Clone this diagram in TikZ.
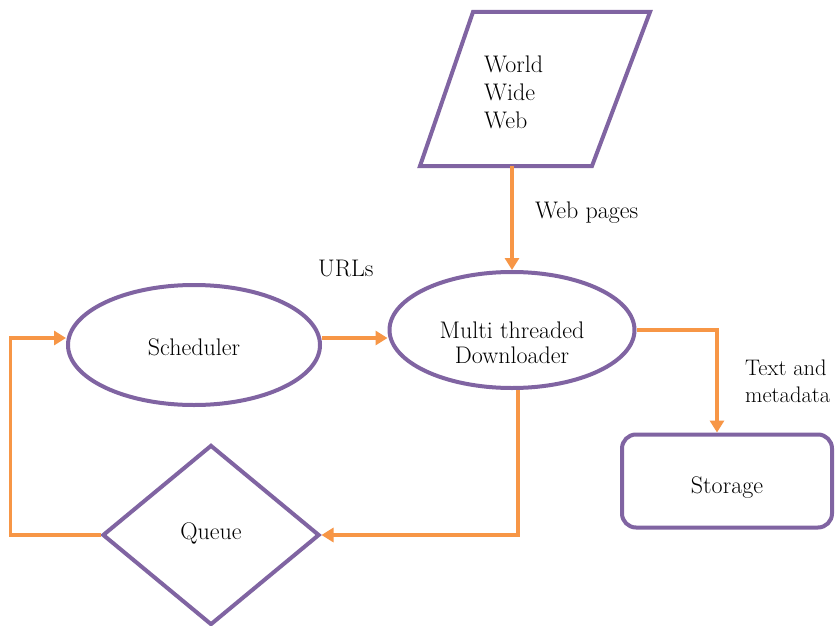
\documentclass[tikz,border=0pt]{standalone}
\usetikzlibrary{shapes.geometric,arrows.meta}
\definecolor{purp}{HTML}{8064A2}
\definecolor{orng}{HTML}{F79646}
\begin{document}
\begin{tikzpicture}[x=1pt,y=-1pt,
 txt/.style={font=\fontsize{24}{25}\selectfont},
 box/.style={draw=purp,line width=4pt,fill=white,inner sep=0pt,txt},
 oval/.style={box,ellipse},
 conn/.style={draw=orng,line width=3.5pt,-{Triangle[length=12pt,width=14pt]}},
 lbl/.style={font=\fontsize{24}{27}\selectfont,inner sep=0pt,align=left,anchor=west}]
\useasboundingbox (0,0) rectangle (835,626);
\fill[white] (0,0) rectangle (835,626);
% World Wide Web parallelogram
\draw[purp,line width=4pt,fill=white,line join=miter] (473,12) -- (650,12) -- (592,166) -- (420,166) -- cycle;
\node[minimum width=172pt,minimum height=154pt,inner sep=0pt] (www) at (535,89) {};
\node[lbl,font=\fontsize{24}{28}\selectfont] (wwwtext) at (484,92) {World\\Wide\\Web};
% nodes
\node[oval,minimum width=252pt,minimum height=120pt] (sched) at (194,345) {};
\node[txt] (schedtext) at (194,347) {Scheduler};
\node[oval,minimum width=245pt,minimum height=116pt] (dl) at (512,330) {};
\node[txt,align=center,inner sep=0pt] (dltext) at (512,343) {Multi threaded\\Downloader};
\node[box,rounded corners=14pt,minimum width=210pt,minimum height=93pt] (st) at (727,481) {};
\node[txt] (sttext) at (727,488) {Storage};
\node[box,diamond,minimum width=217pt,minimum height=180pt] (q) at (211,535) {};
\node[txt] (qtext) at (211,533) {Queue};
% connectors
\draw[conn] (www.south -| dl.north) -- (dl.north);
\draw[conn] ([yshift=7pt]sched.east) -- ([yshift=-8pt]dl.west);
\draw[conn] (dl.east) -| ([xshift=-10pt]st.north);
\draw[conn] ([xshift=6pt]dl.south) |- (q.east);
\draw[conn] (q.west) -- ++(-90,0) |- ([yshift=7pt]sched.west);
% labels
\node[lbl] (lweb) at (535,213) {Web pages};
\node[lbl] (lurl) at (318,268) {URLs};
\node[lbl,font=\fontsize{22.5}{27}\selectfont] (ltext) at (745,381) {Text and\\metadata};
\end{tikzpicture}
\end{document}
